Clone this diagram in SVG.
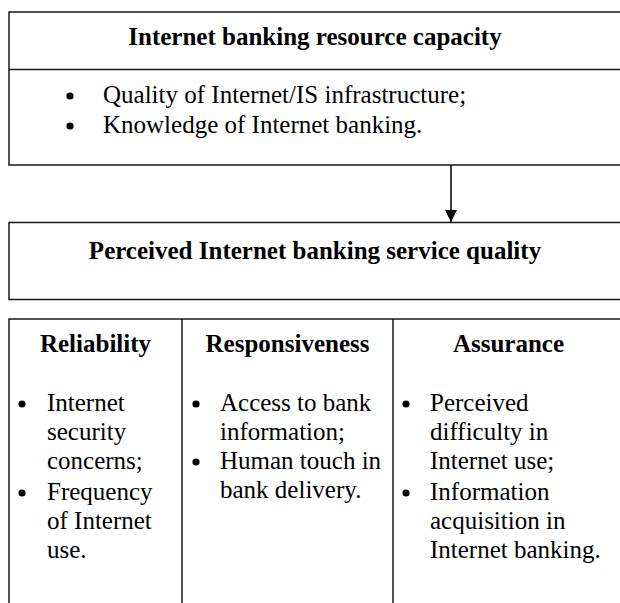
<svg xmlns="http://www.w3.org/2000/svg" width="620" height="603" viewBox="0 0 620 603">
  <style>
    .box { fill: #ffffff; stroke: #1a1a1a; stroke-width: 1.5; }
    .rule { stroke: #1a1a1a; stroke-width: 1.5; fill: none; }
    .conn { stroke: #000000; stroke-width: 1.5; fill: none; }
    .title { font-family: "Liberation Serif", "Times New Roman", serif; font-size: 25px; font-weight: bold; fill: #000000; text-anchor: middle; }
    .body { font-family: "Liberation Serif", "Times New Roman", serif; font-size: 25px; fill: #000000; }
    .bullet { fill: #000000; }
  </style>
  <defs>
    <marker id="arrowhead" markerUnits="userSpaceOnUse" markerWidth="12" markerHeight="12" refX="12" refY="6" orient="auto">
      <path d="M0,0 L12,6 L0,12 Z" fill="#000000"/>
    </marker>
  </defs>
  <rect width="620" height="603" fill="#ffffff"/>

  <g id="resource-capacity">
    <rect class="box" x="9" y="12" width="625" height="153"/>
    <line class="rule" x1="9" y1="69.5" x2="634" y2="69.5"/>
    <text class="title" x="315" y="45">Internet banking resource capacity</text>
    <circle class="bullet" cx="70" cy="96" r="3.6"/>
    <text class="body" x="103" y="103">Quality of Internet/IS infrastructure;</text>
    <circle class="bullet" cx="70" cy="126" r="3.6"/>
    <text class="body" x="103" y="133">Knowledge of Internet banking.</text>
  </g>

  <g id="service-quality">
    <rect class="box" x="9" y="222.5" width="625" height="77"/>
    <text class="title" x="315" y="259">Perceived Internet banking service quality</text>
  </g>

  <g id="dimensions">
    <path class="rule" d="M9,606 V319 H634 M182,319 V606 M393,319 V606"/>
  </g>

  <g id="reliability">
    <text class="title" x="95.5" y="352">Reliability</text>
    <circle class="bullet" cx="22" cy="404" r="3.6"/>
    <text class="body" x="47" y="411">Internet</text>
    <text class="body" x="47" y="440">security</text>
    <text class="body" x="47" y="469">concerns;</text>
    <circle class="bullet" cx="22" cy="493" r="3.6"/>
    <text class="body" x="47" y="500">Frequency</text>
    <text class="body" x="47" y="529">of Internet</text>
    <text class="body" x="47" y="558">use.</text>
  </g>

  <g id="responsiveness">
    <text class="title" x="287.5" y="352">Responsiveness</text>
    <circle class="bullet" cx="196" cy="404" r="3.6"/>
    <text class="body" x="220" y="411">Access to bank</text>
    <text class="body" x="220" y="440">information;</text>
    <circle class="bullet" cx="196" cy="462" r="3.6"/>
    <text class="body" x="220" y="469">Human touch in</text>
    <text class="body" x="220" y="498">bank delivery.</text>
  </g>

  <g id="assurance">
    <text class="title" x="508.5" y="352">Assurance</text>
    <circle class="bullet" cx="406" cy="404" r="3.6"/>
    <text class="body" x="430" y="411">Perceived</text>
    <text class="body" x="430" y="440">difficulty in</text>
    <text class="body" x="430" y="469">Internet use;</text>
    <circle class="bullet" cx="406" cy="493" r="3.6"/>
    <text class="body" x="430" y="500">Information</text>
    <text class="body" x="430" y="529">acquisition in</text>
    <text class="body" x="430" y="558">Internet banking.</text>
  </g>

  <g id="connectors">
    <line class="conn" x1="451" y1="165" x2="451" y2="222" marker-end="url(#arrowhead)"/>
  </g>
</svg>
